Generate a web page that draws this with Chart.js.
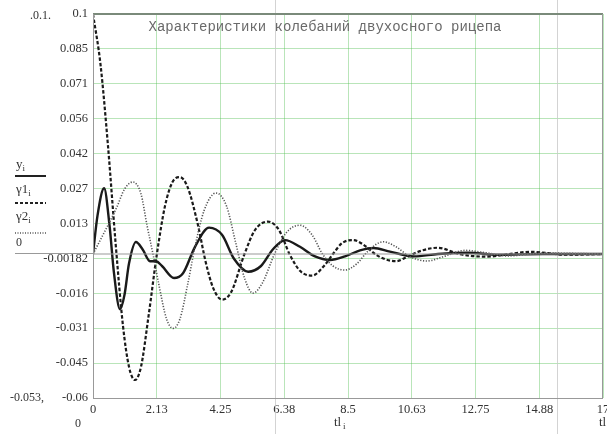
<!DOCTYPE html>
<html><head><meta charset="utf-8">
<script src="https://cdn.jsdelivr.net/npm/chart.js@4/dist/chart.umd.min.js"></script>
<style>html,body{margin:0;padding:0;background:#fff;}#wrap{width:607px;height:434px;position:relative;}</style>
</head><body><div id="wrap"><canvas id="c" width="607" height="434"></canvas></div>
<script>
const titleText = "Характеристики колебаний двухосного рицепа";
const xTickValues = [0, 2.125, 4.25, 6.375, 8.5, 10.625, 12.75, 14.875, 17];
const xTickLabels = ["0", "2.13", "4.25", "6.38", "8.5", "10.63", "12.75", "14.88", "17"];
const yTickValues = [0.1, 0.085455, 0.070909, 0.056364, 0.041818, 0.027273, 0.012727, -0.00182, -0.016364, -0.030909, -0.045455, -0.06];
const yTickLabels = ["0.1", "0.085", "0.071", "0.056", "0.042", "0.027", "0.013", "-0.00182", "-0.016", "-0.031", "-0.045", "-0.06"];

// y_i (solid)
const tY  = [0, 0.15, 0.37, 0.55, 0.7, 0.9, 1.05, 1.2, 1.43, 1.65, 1.9, 2.1, 2.3, 2.7, 3.0, 3.4, 3.87, 4.3, 4.7, 5.17, 5.6, 6.0, 6.4, 6.9, 7.4, 7.9, 8.4, 8.9, 9.35, 9.9, 10.7, 11.5, 12.5, 13.5, 15, 17];
const yV  = [0, 0.016, 0.0274, 0.012, -0.008, -0.023, -0.017, -0.004, 0.005, 0.002, -0.003, -0.003, -0.005, -0.010, -0.008, 0.003, 0.011, 0.008, -0.002, -0.0074, -0.005, 0.002, 0.0058, 0.003, -0.001, -0.0025, -0.001, 0.0015, 0.0025, 0.001, -0.001, 0, 0.0005, -0.0003, 0, 0];
// y1_i (dashed)
const tY1 = [0, 0.25, 0.5, 0.75, 1.0, 1.2, 1.4, 1.6, 1.85, 2.13, 2.4, 2.65, 2.9, 3.15, 3.5, 3.75, 4.0, 4.3, 4.6, 5.05, 5.4, 5.83, 6.2, 6.55, 6.9, 7.3, 7.7, 8.0, 8.3, 8.67, 9.0, 9.4, 9.7, 10.1, 10.5, 10.85, 11.5, 12.2, 13.1, 14.6, 15.8, 17];
const y1V = [0.1, 0.079, 0.045, 0.005, -0.03, -0.047, -0.0525, -0.047, -0.026, 0, 0.02, 0.030, 0.032, 0.028, 0.012, -0.003, -0.014, -0.019, -0.016, 0, 0.01, 0.0135, 0.01, 0, -0.007, -0.009, -0.005, 0, 0.0045, 0.0058, 0.004, 0, -0.002, -0.003, -0.001, 0.001, 0.0026, 0, -0.0011, 0.0009, -0.0003, 0];
// y2_i (dotted)
const tY2 = [0, 0.25, 0.5, 0.8, 1.05, 1.33, 1.6, 1.8, 2.0, 2.2, 2.45, 2.67, 2.9, 3.15, 3.4, 3.7, 4.1, 4.45, 4.75, 5.05, 5.33, 5.65, 6.05, 6.45, 6.9, 7.3, 7.65, 8.0, 8.4, 8.8, 9.15, 9.67, 10.1, 10.55, 11.13, 11.7, 12.4, 13.1, 13.8, 15, 17];
const y2V = [0, 0.006, 0.012, 0.0197, 0.027, 0.030, 0.025, 0.012, 0, -0.013, -0.027, -0.031, -0.027, -0.013, 0.003, 0.018, 0.0254, 0.02, 0.005, -0.01, -0.0163, -0.012, 0, 0.009, 0.012, 0.008, 0, -0.005, -0.0067, -0.004, 0.001, 0.0051, 0.003, -0.001, -0.0029, -0.001, 0.0015, 0.0005, -0.0008, 0.0004, 0];
// 0 trace
const tZero = [0, 17];
const zeroV = [0, 0];

const pts = (t, v) => t.map((x, i) => ({x: x, y: v[i]}));
const serif = "'Liberation Serif', 'Times New Roman', serif";

const extras = {
  id: 'extras',
  beforeDatasetsDraw(chart) {
    const ctx = chart.ctx;
    ctx.save();
    ctx.strokeStyle = 'rgba(200,200,200,0.8)';
    ctx.lineWidth = 1;
    [275.5, 557.5].forEach(x => { ctx.beginPath(); ctx.moveTo(x, 0); ctx.lineTo(x, 434); ctx.stroke(); });
    ctx.restore();
  },
  afterDraw(chart) {
    const ctx = chart.ctx;
    const a = chart.chartArea;
    ctx.save();
    // border
    ctx.strokeStyle = '#7a8a7a';
    ctx.lineWidth = 2;
    ctx.beginPath(); ctx.moveTo(a.left, a.top); ctx.lineTo(a.right, a.top); ctx.stroke();
    ctx.strokeStyle = '#999';
    ctx.lineWidth = 1;
    ctx.beginPath(); ctx.moveTo(a.left + 0.5, a.top); ctx.lineTo(a.left + 0.5, a.bottom); ctx.stroke();
    ctx.beginPath(); ctx.moveTo(a.left, a.bottom + 0.5); ctx.lineTo(a.right, a.bottom + 0.5); ctx.stroke();
    ctx.beginPath(); ctx.moveTo(a.right - 0.5, a.top); ctx.lineTo(a.right - 0.5, a.bottom); ctx.stroke();
    // title
    ctx.fillStyle = '#6a6a6a';
    ctx.font = "14px 'Liberation Mono', 'DejaVu Sans Mono', monospace";
    ctx.textAlign = 'center'; ctx.textBaseline = 'middle';
    ctx.fillText(titleText, 325, 27);
    // side texts
    ctx.fillStyle = '#333';
    ctx.font = "12px " + serif;
    ctx.textAlign = 'left';
    ctx.fillText('.0.1.', 30, 16);
    ctx.fillText('-0.053,', 10, 398);
    ctx.fillText('0', 75, 424);
    // axis labels
    ctx.font = "13px " + serif;
    ctx.fillText('tl', 334, 423);
    ctx.font = "9px " + serif;
    ctx.fillText('i', 343, 427);
    ctx.font = "13px " + serif;
    ctx.fillText('tl', 599, 423);
    // legend
    const lab = (txt, sub, y) => {
      ctx.font = "13px " + serif; ctx.textAlign = 'left'; ctx.textBaseline = 'alphabetic';
      ctx.fillStyle = '#333';
      ctx.fillText(txt, 16, y);
      const w = ctx.measureText(txt).width;
      ctx.font = "9px " + serif;
      ctx.fillText(sub, 16 + w, y + 3);
    };
    lab('y', 'i', 168);
    lab('γ1', 'i', 193);
    lab('γ2', 'i', 220);
    ctx.font = "12px " + serif; ctx.fillText('0', 16, 246);
    ctx.strokeStyle = '#222'; ctx.lineWidth = 2; ctx.setLineDash([]);
    ctx.beginPath(); ctx.moveTo(15, 176); ctx.lineTo(46, 176); ctx.stroke();
    ctx.setLineDash([3, 2]);
    ctx.beginPath(); ctx.moveTo(15, 203); ctx.lineTo(46, 203); ctx.stroke();
    ctx.strokeStyle = '#555'; ctx.lineWidth = 1.5; ctx.setLineDash([1, 1.5]);
    ctx.beginPath(); ctx.moveTo(15, 233); ctx.lineTo(46, 233); ctx.stroke();
    ctx.setLineDash([]);
    ctx.strokeStyle = '#999'; ctx.lineWidth = 1;
    ctx.beginPath(); ctx.moveTo(15, 253.5); ctx.lineTo(a.left, 253.5); ctx.stroke();
    ctx.restore();
  }
};

new Chart(document.getElementById('c'), {
  type: 'line',
  data: {
    datasets: [
      {label: 'zero', data: pts(tZero, zeroV), borderColor: '#999', borderWidth: 1, pointRadius: 0, tension: 0},
      {label: 'y2', data: pts(tY2, y2V), borderColor: '#555', borderWidth: 1.6, borderDash: [1.2, 1.6], pointRadius: 0, cubicInterpolationMode: 'monotone'},
      {label: 'y1', data: pts(tY1, y1V), borderColor: '#1a1a1a', borderWidth: 2.2, borderDash: [3.5, 2], pointRadius: 0, cubicInterpolationMode: 'monotone'},
      {label: 'y', data: pts(tY, yV), borderColor: '#1a1a1a', borderWidth: 2.4, pointRadius: 0, cubicInterpolationMode: 'monotone'}
    ]
  },
  options: {
    responsive: false, animation: false, devicePixelRatio: 1,
    layout: {padding: {left: 0, right: 4, top: 14, bottom: 0}},
    plugins: {legend: {display: false}, tooltip: {enabled: false}, title: {display: false}},
    scales: {
      x: {
        type: 'linear', min: 0, max: 17,
        afterBuildTicks: s => { s.ticks = xTickValues.map(v => ({value: v})); },
        afterFit: s => { s.height = 36; s.paddingLeft = 0; s.paddingRight = 0; },
        grid: {color: 'rgba(80,190,80,0.4)', lineWidth: 1, drawTicks: false},
        border: {display: false},
        ticks: {
          maxRotation: 0, autoSkip: false, padding: 4,
          color: '#333', font: {family: serif, size: 12.5},
          callback: (v, i) => xTickLabels[i]
        }
      },
      y: {
        type: 'linear', min: -0.06, max: 0.1,
        afterBuildTicks: s => { s.ticks = yTickValues.map(v => ({value: v})); },
        afterFit: s => { s.width = 93; s.paddingTop = 0; s.paddingBottom = 0; },
        grid: {color: 'rgba(80,190,80,0.4)', lineWidth: 1, drawTicks: false},
        border: {display: false},
        ticks: {
          autoSkip: false, padding: 5,
          color: '#333', font: {family: serif, size: 12.5},
          callback: (v, i) => yTickLabels[i]
        }
      }
    }
  },
  plugins: [extras]
});
</script>
</body></html>
